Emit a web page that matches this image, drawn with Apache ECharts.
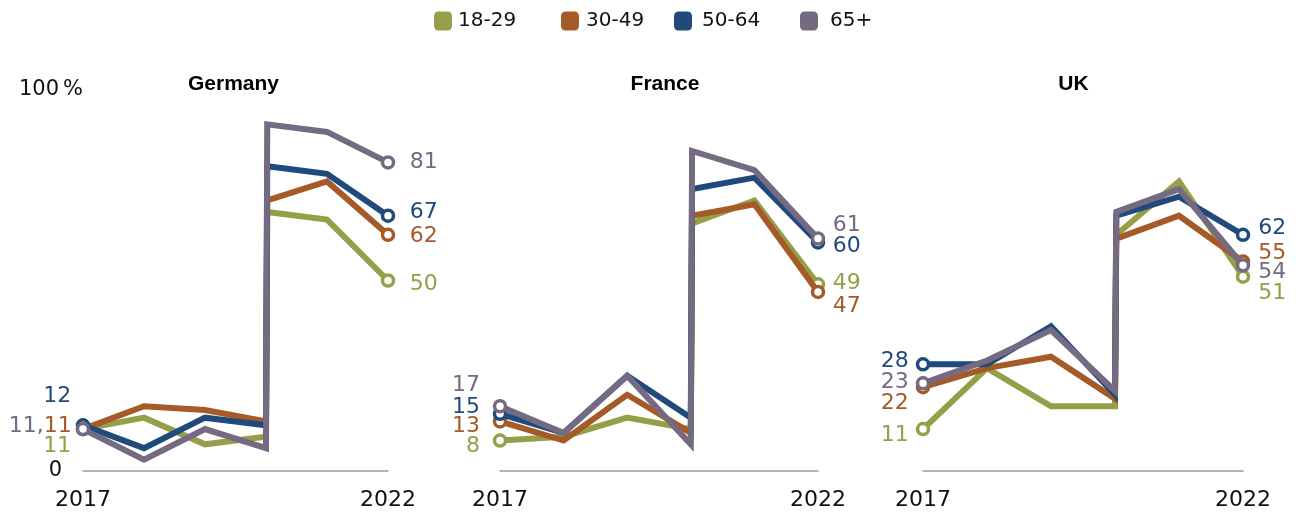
<!DOCTYPE html>
<html>
<head>
<meta charset="utf-8">
<script src="https://cdn.jsdelivr.net/npm/echarts@6/dist/echarts.min.js"></script>
<style>
  html, body { margin: 0; padding: 0; background: #fff; }
  #chart { width: 1296px; height: 515px; }
</style>
</head>
<body>
<div id="chart"></div>
<script>
// ---- Data ----
const surveyX = [2017, 2018, 2019, 2020, 2020.02, 2021, 2022];
const ageGroups = ['18-29', '30-49', '50-64', '65+'];
const countries = ['Germany', 'France', 'UK'];
const xTickLabels = [2017, 2022];
const yTickLabels = [0, 100];

const germany1829 = [11, 14, 7, 9, 68, 66, 50];
const germany3049 = [11, 17, 16, 13, 71, 76, 62];
const germany5064 = [12, 6, 14, 12, 80, 78, 67];
const germany65   = [11, 3, 11, 6, 91, 89, 81];

const france1829 = [8, 9, 14, 11, 65, 71, 49];
const france3049 = [13, 8, 20, 10, 67, 70, 47];
const france5064 = [15, 10, 25, 14, 74, 77, 60];
const france65   = [17, 10, 25, 7, 84, 79, 61];

const uk1829 = [11, 27, 17, 17, 62, 76, 51];
const uk3049 = [22, 27, 30, 19, 61, 67, 55];
const uk5064 = [28, 28, 38, 20, 67, 72, 62];
const uk65   = [23, 29, 37, 21, 68, 74, 54];

const countryData = [
  [germany1829, germany3049, germany5064, germany65],
  [france1829, france3049, france5064, france65],
  [uk1829, uk3049, uk5064, uk65]
];

// ---- Styles / layout ----
const colors = ['#949F48', '#A65A27', '#1F4A7B', '#746A81'];
const FONT = '"DejaVu Sans", Verdana, sans-serif';
const TFONT = '"Liberation Sans", Arial, sans-serif';
const grids = [
  { left: 83, width: 305, top: 90, bottom: 44 },
  { left: 500, width: 318, top: 90, bottom: 44 },
  { left: 923, width: 320, top: 90, bottom: 44 }
];
const titleCenters = [233.5, 665, 1073.5];
// [distance, dy, suffix] for start (left) and end (right) labels
const startLabels = [
  [[4.5, 17.6, ''], [4, -2.4, ''], [4.5, -29, ''], [32, -2.4, ',']],
  [[12.8, 6, ''], [12.8, 5, ''], [12.8, -7, ''], [12.8, -21, '']],
  [[7, 6, ''], [7, 16, ''], [7, -2.7, ''], [7, -0.8, '']]
];
const endLabels = [
  [[14.5, 4], [14.5, 2], [14.5, -3], [14.5, 0]],
  [[7.5, -1], [7.5, 14.6], [7.5, 4], [7.5, -13]],
  [[8, 16.4], [8, -8.4], [8, -6.7], [8, 6.8]]
];
const legendLefts = [434, 561, 674, 800];
const legendTextPad = [[0, 0, 0, 1], [0, 0, 0, 2], [0, 0, 0, 5], [0, 0, 0, 7]];

const option = {
  animation: false,
  backgroundColor: '#fff',
  title: countries.map((c, i) => ({
    text: c,
    left: titleCenters[i],
    top: 74,
    padding: 0,
    textAlign: 'center',
    textStyle: { fontFamily: TFONT, fontSize: 21, fontWeight: 'bold', color: '#000' }
  })),
  legend: ageGroups.map((g, i) => ({
    data: [{ name: g, itemStyle: { color: colors[i], borderWidth: 0 } }],
    left: legendLefts[i],
    top: 11,
    padding: 0,
    icon: 'roundRect',
    itemWidth: 18,
    itemHeight: 19,
    selectedMode: false,
    textStyle: { fontFamily: FONT, fontSize: 20, color: '#111', padding: legendTextPad[i] }
  })),
  grid: grids,
  xAxis: grids.map((g, i) => ({
    type: 'value',
    gridIndex: i,
    min: 2017,
    max: 2022,
    splitLine: { show: false },
    axisTick: { show: false },
    axisLine: { show: true, lineStyle: { color: '#9d9d9d', width: 1.5 } },
    axisLabel: {
      customValues: xTickLabels,
      margin: 18,
      fontFamily: FONT,
      fontSize: 22,
      color: '#111',
      formatter: v => String(v)
    }
  })),
  yAxis: grids.map((g, i) => ({
    type: 'value',
    gridIndex: i,
    min: 0,
    max: 100,
    splitLine: { show: false },
    axisTick: { show: false },
    axisLine: { show: false },
    axisLabel: i === 0 ? {
      customValues: yTickLabels,
      margin: 0,
      fontFamily: FONT,
      fontSize: 21,
      color: '#111',
      formatter: v => v === 100 ? '{n|100}{p|%}' : '{n|0}{s|}',
      rich: {
        n: { fontFamily: FONT, fontSize: 21, color: '#111' },
        p: { fontFamily: FONT, fontSize: 21, color: '#111', padding: [0, 0, 0, 4] },
        s: { width: 21 }
      }
    } : { show: false }
  })),
  series: []
};

countryData.forEach((groups, ci) => {
  groups.forEach((vals, gi) => {
    const last = vals.length - 1;
    const data = vals.map((v, k) => {
      const item = { value: [surveyX[k], v] };
      if (k === 0) {
        const [d, dy, suf] = startLabels[ci][gi];
        item.label = { show: true, position: 'left', distance: d, offset: [0, dy],
          formatter: String(v) + suf };
      } else if (k === last) {
        const [d, dy] = endLabels[ci][gi];
        item.label = { show: true, position: 'right', distance: d, offset: [0, dy],
          formatter: String(v) };
      } else {
        item.symbol = 'none';
      }
      return item;
    });
    option.series.push({
      type: 'line',
      name: ageGroups[gi],
      xAxisIndex: ci,
      yAxisIndex: ci,
      data: data,
      color: colors[gi],
      symbol: 'circle',
      symbolSize: 11,
      showSymbol: true,
      lineStyle: { width: 6, color: colors[gi], join: 'miter' },
      itemStyle: { color: '#fff', borderColor: colors[gi], borderWidth: 3.5 },
      label: { fontFamily: FONT, fontSize: 22, color: colors[gi] },
      emphasis: { disabled: true },
      z: 2 + gi
    });
  });
});

const chart = echarts.init(document.getElementById('chart'), null, { renderer: 'canvas' });
chart.setOption(option);
</script>
</body>
</html>
